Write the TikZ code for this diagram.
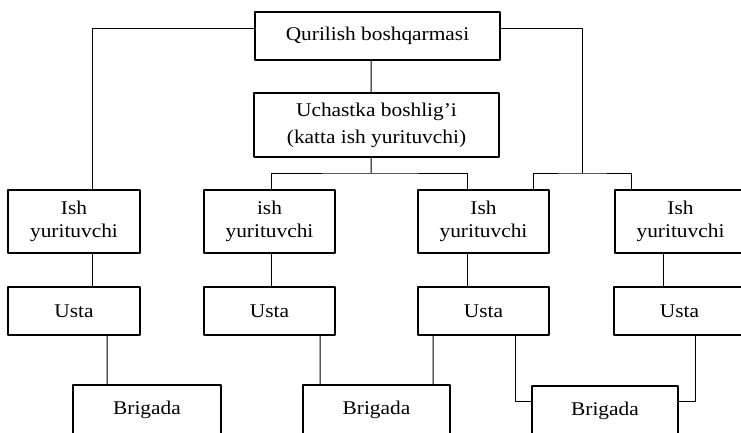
\documentclass[tikz,border=0pt]{standalone}
\usepackage{fontspec}
\setmainfont[FakeStretch=1.1]{Liberation Serif}
\tikzset{
  orgbox/.style={draw, line width=1.3bp, inner sep=0pt, align=center,
    font=\fontsize{19.5}{23}\selectfont},
}
\begin{document}
\begin{tikzpicture}[x=1bp,y=-1bp,line join=bevel,]
  \pgfsetlinewidth{1bp}
  \useasboundingbox (0,0) rectangle (741,432);
  \clip (0,0) rectangle (741,432);
%%
\pgfsetcolor{black}
  % Node: boshqarma
  \node[orgbox, minimum width=245bp, minimum height=48bp] (boshqarma) at (377.5,36) {Qurilish boshqarmasi};
  % Node: uchastka
  \node[orgbox, minimum width=245bp, minimum height=64bp, font=\fontsize{19.5}{27}\selectfont] (uchastka) at (376.5,125) {Uchastka boshlig'i\\(katta ish yurituvchi)};
  % Node: ish_1 .. ish_4
  \node[orgbox, minimum width=132bp, minimum height=63bp] (ish1) at (74,221.5) {Ish\\yurituvchi};
  \node[orgbox, minimum width=131bp, minimum height=63bp] (ish2) at (269.5,221.5) {ish\\yurituvchi};
  \node[orgbox, minimum width=131bp, minimum height=63bp] (ish3) at (483.5,221.5) {Ish\\yurituvchi};
  \node[orgbox, minimum width=131bp, minimum height=63bp] (ish4) at (680.5,221.5) {Ish\\yurituvchi};
  % Node: usta_1 .. usta_4
  \node[orgbox, minimum width=132bp, minimum height=48bp] (usta1) at (74,311) {Usta};
  \node[orgbox, minimum width=131bp, minimum height=48bp] (usta2) at (269.5,311) {Usta};
  \node[orgbox, minimum width=131bp, minimum height=48bp] (usta3) at (483.5,311) {Usta};
  \node[orgbox, minimum width=131bp, minimum height=48bp] (usta4) at (679.5,311) {Usta};
  % Node: brig_1 .. brig_3
  \node[orgbox, minimum width=148bp, minimum height=50bp] (brig1) at (147,410) {Brigada};
  \node[orgbox, minimum width=147bp, minimum height=50bp] (brig2) at (376.5,410) {Brigada};
  \node[orgbox, minimum width=146bp, minimum height=50bp] (brig3) at (605,411) {Brigada};
  % Bus points
  \coordinate (busA) at (371,173);
  \coordinate (busB) at (582,173);
  % Edge: boshqarma -> ish1
  \draw ([yshift=8bp]boshqarma.west) -| ([xshift=18bp]ish1.north);
  % Edge: boshqarma -> uchastka
  \draw ([xshift=-6.5bp]boshqarma.south) -- ([xshift=-5.5bp]uchastka.north);
  % Edge: boshqarma -> ish3, ish4
  \draw ([yshift=8bp]boshqarma.east) -| (busB);
  \draw ([xshift=49.5bp]ish3.north) |- (busB) -| ([xshift=-49.5bp]ish4.north);
  % Edge: uchastka -> ish2, ish3
  \draw ([xshift=-5.5bp]uchastka.south) -- (busA);
  \draw ([xshift=1.5bp]ish2.north) |- (busA) -| ([xshift=-16.5bp]ish3.north);
  % Edge: ish -> usta
  \draw ([xshift=18bp]ish1.south) -- ([xshift=18bp]usta1.north);
  \draw ([xshift=1.5bp]ish2.south) -- ([xshift=1.5bp]usta2.north);
  \draw ([xshift=-16.5bp]ish3.south) -- ([xshift=-16.5bp]usta3.north);
  \draw ([xshift=-17.5bp]ish4.south) -- ([xshift=-16.5bp]usta4.north);
  % Edge: usta -> brigada
  \draw ([xshift=33bp]usta1.south) -- ([xshift=-40bp]brig1.north);
  \draw ([xshift=50.5bp]usta2.south) -- ([xshift=-56.5bp]brig2.north);
  \draw ([xshift=-50.5bp]usta3.south) -- ([xshift=56.5bp]brig2.north);
  \draw ([xshift=31.5bp]usta3.south) |- ([yshift=10bp]brig3.west);
  \draw ([xshift=15.5bp]usta4.south) |- ([yshift=10bp]brig3.east);
%
\end{tikzpicture}
\end{document}
